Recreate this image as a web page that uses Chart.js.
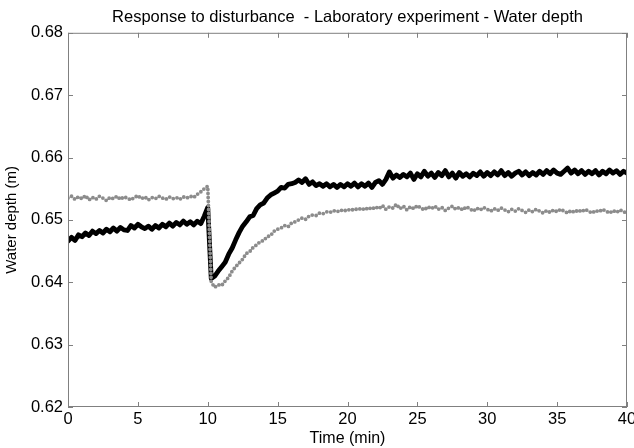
<!DOCTYPE html>
<html>
<head>
<meta charset="utf-8">
<script src="https://cdn.jsdelivr.net/npm/chart.js@4/dist/chart.umd.min.js"></script>
<style>
    html, body { margin: 0; padding: 0; background: #fff; }
    #wrap { width: 634px; height: 448px; }
</style>
</head>
<body>
<div id="wrap"><canvas id="depthChart" width="634" height="448"></canvas></div>
<script>
// ──────────────────────────────────────
// Data
// ──────────────────────────────────────

const TIME_MIN = [
    0, 0.25, 0.5, 0.75, 1, 1.25, 1.5, 1.75,
    2, 2.25, 2.5, 2.75, 3, 3.25, 3.5, 3.75,
    4, 4.25, 4.5, 4.75, 5, 5.25, 5.5, 5.75,
    6, 6.25, 6.5, 6.75, 7, 7.25, 7.5, 7.75,
    8, 8.25, 8.5, 8.75, 9, 9.25, 9.5, 9.75,
    10, 10.25, 10.5, 10.75, 11, 11.25, 11.5, 11.75,
    12, 12.25, 12.5, 12.75, 13, 13.25, 13.5, 13.75,
    14, 14.25, 14.5, 14.75, 15, 15.25, 15.5, 15.75,
    16, 16.25, 16.5, 16.75, 17, 17.25, 17.5, 17.75,
    18, 18.25, 18.5, 18.75, 19, 19.25, 19.5, 19.75,
    20, 20.25, 20.5, 20.75, 21, 21.25, 21.5, 21.75,
    22, 22.25, 22.5, 22.75, 23, 23.25, 23.5, 23.75,
    24, 24.25, 24.5, 24.75, 25, 25.25, 25.5, 25.75,
    26, 26.25, 26.5, 26.75, 27, 27.25, 27.5, 27.75,
    28, 28.25, 28.5, 28.75, 29, 29.25, 29.5, 29.75,
    30, 30.25, 30.5, 30.75, 31, 31.25, 31.5, 31.75,
    32, 32.25, 32.5, 32.75, 33, 33.25, 33.5, 33.75,
    34, 34.25, 34.5, 34.75, 35, 35.25, 35.5, 35.75,
    36, 36.25, 36.5, 36.75, 37, 37.25, 37.5, 37.75,
    38, 38.25, 38.5, 38.75, 39, 39.25, 39.5, 39.75,
    40
];

// solid black trace
const DEPTH_MEASURED = [
    0.6466, 0.6472, 0.6467, 0.6476, 0.6473, 0.6479, 0.6475, 0.6482,
    0.6478, 0.6483, 0.6479, 0.6485, 0.6481, 0.6487, 0.6482, 0.6488,
    0.6484, 0.6483, 0.6491, 0.6487, 0.6493, 0.6489, 0.6486, 0.6490,
    0.6485, 0.6491, 0.6487, 0.6493, 0.6489, 0.6495, 0.6490, 0.6496,
    0.6492, 0.6498, 0.6493, 0.6497, 0.6492, 0.6498, 0.6494, 0.6506,
    0.6520, 0.6406, 0.6410, 0.6418, 0.6425, 0.6432, 0.6445, 0.6455,
    0.6468, 0.6480, 0.6490, 0.6497, 0.6505, 0.6507, 0.6518, 0.6524,
    0.6527, 0.6535, 0.6540, 0.6543, 0.6546, 0.6552, 0.6551, 0.6557,
    0.6558, 0.6560, 0.6564, 0.6560, 0.6566, 0.6557, 0.6561, 0.6555,
    0.6558, 0.6554, 0.6558, 0.6553, 0.6557, 0.6552, 0.6557, 0.6553,
    0.6558, 0.6554, 0.6559, 0.6553, 0.6558, 0.6554, 0.6559, 0.6552,
    0.6560, 0.6563, 0.6557, 0.6565, 0.6577, 0.6567, 0.6572, 0.6568,
    0.6573, 0.6569, 0.6575, 0.6565, 0.6574, 0.6569, 0.6578, 0.6570,
    0.6575, 0.6568, 0.6576, 0.6571, 0.6579, 0.6569, 0.6575, 0.6567,
    0.6576, 0.6570, 0.6574, 0.6569, 0.6575, 0.6571, 0.6577, 0.6570,
    0.6576, 0.6571, 0.6577, 0.6572, 0.6579, 0.6571, 0.6576, 0.6570,
    0.6575, 0.6578, 0.6572, 0.6577, 0.6571, 0.6576, 0.6572, 0.6578,
    0.6573, 0.6579, 0.6574, 0.6580, 0.6575, 0.6573, 0.6578, 0.6583,
    0.6575, 0.6580, 0.6574, 0.6579, 0.6573, 0.6578, 0.6574, 0.6579,
    0.6572, 0.6578, 0.6574, 0.6580, 0.6575, 0.6579, 0.6573, 0.6578,
    0.6575
];

// dotted grey trace
const DEPTH_SIMULATED = [
    0.6535, 0.6538, 0.6533, 0.6537, 0.6534, 0.6539, 0.6532, 0.6536,
    0.6533, 0.6538, 0.6535, 0.6531, 0.6536, 0.6534, 0.6538, 0.6533,
    0.6537, 0.6535, 0.6532, 0.6536, 0.6539, 0.6534, 0.6537, 0.6532,
    0.6536, 0.6534, 0.6538, 0.6535, 0.6533, 0.6537, 0.6534, 0.6536,
    0.6533, 0.6537, 0.6535, 0.6538, 0.6536, 0.6541, 0.6545, 0.6550,
    0.6554, 0.6400, 0.6392, 0.6396, 0.6395, 0.6402, 0.6408, 0.6418,
    0.6425, 0.6431, 0.6437, 0.6446, 0.6449, 0.6456, 0.6460, 0.6465,
    0.6467, 0.6473, 0.6475, 0.6482, 0.6485, 0.6487, 0.6491, 0.6489,
    0.6495, 0.6497, 0.6500, 0.6503, 0.6501, 0.6506, 0.6508, 0.6507,
    0.6511, 0.6510, 0.6513, 0.6512, 0.6515, 0.6513, 0.6516, 0.6514,
    0.6517, 0.6515, 0.6518, 0.6516, 0.6519, 0.6516, 0.6520, 0.6517,
    0.6521, 0.6518, 0.6523, 0.6517, 0.6521, 0.6519, 0.6525, 0.6518,
    0.6522, 0.6516, 0.6521, 0.6518, 0.6523, 0.6519, 0.6516, 0.6521,
    0.6518, 0.6522, 0.6517, 0.6520, 0.6515, 0.6519, 0.6522, 0.6517,
    0.6520, 0.6516, 0.6521, 0.6518, 0.6514, 0.6519, 0.6516, 0.6520,
    0.6517, 0.6514, 0.6518, 0.6515, 0.6519, 0.6516, 0.6513, 0.6517,
    0.6514, 0.6518, 0.6515, 0.6512, 0.6516, 0.6513, 0.6517, 0.6514,
    0.6511, 0.6515, 0.6512, 0.6516, 0.6513, 0.6517, 0.6514, 0.6511,
    0.6515, 0.6512, 0.6516, 0.6513, 0.6517, 0.6514, 0.6511, 0.6515,
    0.6513, 0.6517, 0.6514, 0.6511, 0.6515, 0.6512, 0.6516, 0.6513,
    0.6511
];

const X_TICKS = [0, 5, 10, 15, 20, 25, 30, 35, 40];
const Y_TICKS = [0.62, 0.63, 0.64, 0.65, 0.66, 0.67, 0.68];

const TITLE = 'Response to disturbance  - Laboratory experiment - Water depth';
const X_LABEL = 'Time (min)';
const Y_LABEL = 'Water depth (m)';

// ──────────────────────────────────────
// Styling
// ──────────────────────────────────────

const FONT = "'Liberation Sans', Arial, Helvetica, sans-serif";
const FRAME = '#808080';

function toPoints(xs, ys) {
    return xs.map((x, i) => ({ x: x, y: ys[i] }));
}

// MATLAB-style box with inward tick marks on all four sides
const boxPlugin = {
    id: 'boxFrame',
    afterDatasetsDraw(chart) {
        const { ctx, chartArea: a, scales } = chart;
        const len = 5;
        ctx.save();
        ctx.strokeStyle = FRAME;
        ctx.lineWidth = 1;
        ctx.strokeRect(a.left + 0.5, a.top + 0.5, a.right - a.left - 1, a.bottom - a.top - 1);
        ctx.beginPath();
        X_TICKS.forEach(v => {
            const px = Math.round(scales.x.getPixelForValue(v)) + 0.5;
            ctx.moveTo(px, a.bottom);
            ctx.lineTo(px, a.bottom - len);
            ctx.moveTo(px, a.top);
            ctx.lineTo(px, a.top + len);
        });
        Y_TICKS.forEach(v => {
            const py = Math.round(scales.y.getPixelForValue(v)) + 0.5;
            ctx.moveTo(a.left, py);
            ctx.lineTo(a.left + len, py);
            ctx.moveTo(a.right, py);
            ctx.lineTo(a.right - len, py);
        });
        ctx.stroke();
        ctx.restore();
    }
};

new Chart(document.getElementById('depthChart'), {
    type: 'line',
    data: {
        datasets: [
            {
                label: 'simulated',
                data: toPoints(TIME_MIN, DEPTH_SIMULATED),
                borderColor: '#8c8c8c',
                borderWidth: 3.8,
                borderDash: [0, 4],
                borderCapStyle: 'round',
                pointRadius: 0,
                tension: 0,
            },
            {
                label: 'measured',
                data: toPoints(TIME_MIN, DEPTH_MEASURED),
                borderColor: '#000000',
                borderWidth: 4.8,
                borderJoinStyle: 'round',
                borderCapStyle: 'round',
                pointRadius: 0,
                tension: 0,
            }
        ]
    },
    options: {
        responsive: false,
        animation: false,
        events: [],
        layout: { padding: { left: 0, right: 7, top: 0, bottom: 0 } },
        plugins: {
            legend: { display: false },
            tooltip: { enabled: false },
            title: {
                display: true,
                fullSize: false,
                text: TITLE,
                color: '#000',
                font: { size: 16.5, weight: 'normal', family: FONT },
                padding: { top: 8, bottom: 5 },
            }
        },
        scales: {
            x: {
                type: 'linear',
                min: 0,
                max: 40,
                afterBuildTicks: s => { s.ticks = X_TICKS.map(v => ({ value: v })); },
                afterFit: s => {
                    s.height = 41;
                    s.paddingLeft = 0;
                    s.paddingRight = 0;
                },
                grid: { display: false, drawTicks: false },
                border: { display: false },
                ticks: {
                    autoSkip: false,
                    maxRotation: 0,
                    padding: 3,
                    color: '#000',
                    font: { size: 16.5, family: FONT },
                },
                title: {
                    display: true,
                    text: X_LABEL,
                    color: '#000',
                    font: { size: 16, family: FONT },
                    padding: { top: 0, bottom: 0 },
                }
            },
            y: {
                type: 'linear',
                min: 0.62,
                max: 0.68,
                afterBuildTicks: s => { s.ticks = Y_TICKS.map(v => ({ value: v })); },
                afterFit: s => {
                    s.width = 68;
                    s.paddingTop = 0;
                    s.paddingBottom = 0;
                },
                grid: { display: false, drawTicks: false },
                border: { display: false },
                ticks: {
                    autoSkip: false,
                    padding: 5,
                    color: '#000',
                    font: { size: 16.5, family: FONT },
                    callback: v => v.toFixed(2),
                },
                title: {
                    display: true,
                    text: Y_LABEL,
                    color: '#000',
                    font: { size: 15, family: FONT },
                    padding: { top: 3, bottom: 0 },
                }
            }
        }
    },
    plugins: [boxPlugin]
});
</script>
</body>
</html>
